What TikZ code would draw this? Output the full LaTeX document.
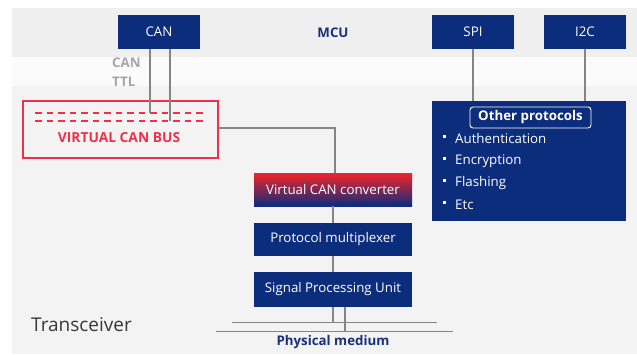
\documentclass[tikz,border=0pt]{standalone}
\usepackage{fontspec}
\setmainfont{Open Sans}
\definecolor{navy}{HTML}{0C2C7C}
\definecolor{navytxt}{HTML}{1A2F7A}
\definecolor{vred}{HTML}{F0304A}
\definecolor{convred}{HTML}{F22428}
\definecolor{convpurple}{HTML}{8A2260}
\definecolor{linegray}{HTML}{858585}
\definecolor{bgtop}{HTML}{EFEFEF}
\definecolor{bgmid}{HTML}{FBFBFB}
\definecolor{bglow}{HTML}{F3F3F3}
\definecolor{lblgray}{HTML}{A6A6A6}
\tikzset{
  navybox/.style={fill=navy, text=white, inner sep=0pt, font=\fontsize{13.3}{15}\selectfont},
  conn/.style={draw=linegray, line width=1.1pt},
  bullettxt/.style={anchor=west, text=white, inner sep=0pt, font=\fontsize{13.3}{15}\selectfont},
  boldtxt/.style={font=\fontsize{13.3}{15}\selectfont\bfseries},
}
\begin{document}
\begin{tikzpicture}[x=1pt,y=-1pt]
\useasboundingbox (0,0) rectangle (637,354);
\fill[white] (0,0) rectangle (637,354);
\fill[bgtop] (12,8) rectangle (637,57);
\fill[bgmid] (12,57) rectangle (637,86);
\fill[bglow] (12,86) rectangle (637,354);

% MCU row
\node[navybox, minimum width=82pt, minimum height=34pt] (can) at (159,32) {CAN};
\node[navybox, minimum width=82pt, minimum height=34pt] (spi) at (473,32) {SPI};
\node[navybox, minimum width=82pt, minimum height=34pt] (itc) at (585,32) {I2C};
\node[text=navytxt, boldtxt] (mcu) at (333,33) {MCU};

% CAN TTL label
\node[anchor=west, inner sep=0pt, text=lblgray, boldtxt] (canl) at (112,63) {CAN};
\node[anchor=west, inner sep=0pt, text=lblgray, boldtxt] (ttll) at (112,82) {TTL};

% Virtual CAN bus
\node[draw=vred, line width=1.6pt, fill=bglow, minimum width=195pt, minimum height=57pt, inner sep=0pt] (vcb) at (120.5,129.5) {};
\node[text=vred, font=\fontsize{13.8}{15}\selectfont\bfseries] (vcbl) at (119,138) {VIRTUAL CAN BUS};
\coordinate (d1a) at (35,113); \coordinate (d1b) at (205,113);
\coordinate (d2a) at (35,121); \coordinate (d2b) at (205,121);
\draw[vred, line width=1.2pt, dash pattern=on 6.5pt off 5pt] (d1a) -- (d1b);
\draw[vred, line width=1.2pt, dash pattern=on 6.5pt off 5pt] (d2a) -- (d2b);
\coordinate (t1) at (150,113);
\coordinate (t2) at (170,121);
\draw[conn] (t1 |- can.south) -- (t1);
\draw[conn] (t2 |- can.south) -- (t2);

% Other protocols
\node[navybox, minimum width=194pt, minimum height=120pt] (other) at (529,161) {};
\draw[conn] (spi.south) -- (spi.south |- other.north);
\draw[conn] (itc.south) -- (itc.south |- other.north);
\node[draw=white, line width=0.9pt, rounded corners=3pt, text=white, inner sep=0pt, minimum width=121pt, minimum height=21pt, boldtxt] (optitle) at (530.5,117.5) {Other protocols};
\node[bullettxt] (b1) at (455,139) {Authentication};
\node[bullettxt] (b2) at (455,161) {Encryption};
\node[bullettxt] (b3) at (455,183) {Flashing};
\node[bullettxt] (b4) at (455,205) {Etc};
\foreach \b in {b1,b2,b3,b4} \fill[white] ([xshift=-12pt,yshift=1.3pt]\b.west) rectangle ++(2.6pt,2.6pt);

% Transceiver chain
\node[minimum width=158pt, minimum height=33pt, inner sep=0pt, text=white, top color=convred, middle color=convred!70!convpurple, bottom color=navy, font=\fontsize{13.3}{15}\selectfont] (vcc) at (333,189.5) {Virtual CAN converter};
\node[navybox, minimum width=158pt, minimum height=33pt] (pm) at (333,239.5) {Protocol multiplexer};
\node[navybox, minimum width=158pt, minimum height=35pt] (spu) at (333,289.5) {Signal Processing Unit};
\draw[conn] (vcb.east |- 0,128) -| ([xshift=2pt]vcc.north);
\draw[conn] (vcc.south) -- (pm.north);
\draw[conn] (pm.south) -- (spu.north);

% Physical medium
\coordinate (m1a) at (232,322); \coordinate (m1b) at (437,322);
\coordinate (m2a) at (216,331); \coordinate (m2b) at (453,331);
\draw[conn, line width=1pt] (m1a) -- (m1b);
\draw[conn, line width=1pt] (m2a) -- (m2b);
\draw[conn] (spu.south) -- (spu.south |- m1a);
\draw[conn] ([xshift=12pt]spu.south) -- ([xshift=12pt]spu.south |- m2a);
\node[text=navytxt, boldtxt] (phys) at (333,342) {Physical medium};

\node[anchor=west, inner sep=0pt, text=black!78, font=\fontsize{19}{22}\selectfont] (trx) at (31,325) {Transceiver};
\end{tikzpicture}
\end{document}
